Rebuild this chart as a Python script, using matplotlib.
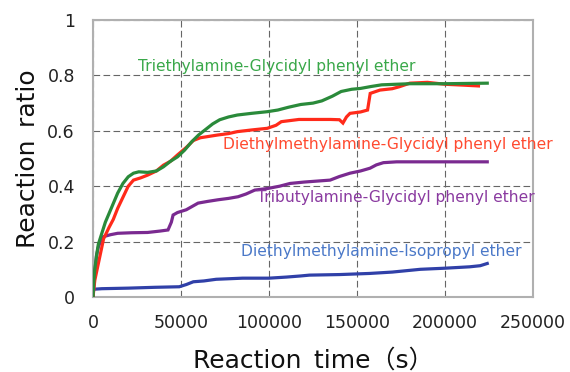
import matplotlib
matplotlib.use("Agg")
import matplotlib.pyplot as plt

# ---------------- data ----------------
green_x = [0, 500, 1000, 2000, 3000, 5000, 7000, 9000, 11000, 14000, 17000, 20000, 23000, 26000,
           31000, 36000, 40000, 44000, 48000, 52000, 56000, 60000, 64000, 68000, 72000, 77000,
           82000, 90000, 99000, 105000, 111000, 118000, 125000, 130000, 136000, 141000, 147000,
           152000, 158000, 164000, 172000, 180000, 200000, 224000]
green_y = [0.0, 0.06, 0.10, 0.15, 0.19, 0.23, 0.27, 0.30, 0.33, 0.375, 0.41, 0.434, 0.447, 0.452,
           0.45, 0.455, 0.47, 0.49, 0.506, 0.53, 0.56, 0.585, 0.605, 0.625, 0.64, 0.65,
           0.657, 0.663, 0.669, 0.675, 0.685, 0.695, 0.70, 0.708, 0.725, 0.742, 0.75,
           0.753, 0.76, 0.766, 0.768, 0.77, 0.77, 0.772]

red_x = [0, 1000, 2000, 4000, 6000, 9000, 11500, 14000, 17000, 20000, 23000, 27000, 31000, 36000,
         40000, 44000, 48000, 53000, 57000, 61000, 66000, 71000, 77000, 82000, 90000, 99000,
         104000, 107000, 117000, 135000, 140000, 142000, 144000, 146000, 152000, 156000, 157500,
         163000, 170000, 174000, 180000, 190000, 200000, 210000, 219000]
red_y = [0.0, 0.06, 0.09, 0.15, 0.21, 0.25, 0.28, 0.32, 0.36, 0.40, 0.422, 0.43, 0.44, 0.455,
         0.476, 0.49, 0.513, 0.54, 0.565, 0.575, 0.58, 0.585, 0.59, 0.597, 0.603, 0.609,
         0.62, 0.633, 0.641, 0.641, 0.64, 0.628, 0.65, 0.663, 0.668, 0.675, 0.735,
         0.747, 0.752, 0.759, 0.772, 0.775, 0.768, 0.765, 0.762]

purple_x = [0, 1000, 2000, 3000, 4500, 6000, 10000, 14000, 22000, 31000, 38000, 42600, 44500,
            45500, 48000, 53000, 59700, 65000, 71000, 77000, 82400, 87000, 91900, 99400, 106000,
            112000, 120000, 134700, 140000, 146000, 152000, 157400, 161000, 165000, 172500, 224000]
purple_y = [0.0, 0.09, 0.15, 0.18, 0.205, 0.218, 0.225, 0.23, 0.232, 0.233, 0.238, 0.242, 0.27,
            0.296, 0.305, 0.315, 0.339, 0.345, 0.351, 0.356, 0.362, 0.372, 0.386, 0.392, 0.40,
            0.41, 0.415, 0.422, 0.435, 0.447, 0.455, 0.465, 0.477, 0.485, 0.488, 0.488]

blue_x = [0, 300, 5000, 20000, 35000, 49000, 53000, 57000, 63000, 70000, 85000, 100000, 110000,
          118000, 123000, 140000, 157000, 170000, 186000, 200000, 214000, 220000, 224000]
blue_y = [0.0, 0.028, 0.03, 0.032, 0.035, 0.037, 0.045, 0.055, 0.058, 0.064, 0.068, 0.068, 0.072,
          0.076, 0.079, 0.081, 0.085, 0.09, 0.10, 0.104, 0.109, 0.113, 0.121]

series_labels = ["Triethylamine-Glycidyl phenyl ether",
                 "Diethylmethylamine-Glycidyl phenyl ether",
                 "Tributylamine-Glycidyl phenyl ether",
                 "Diethylmethylamine-Isopropyl ether"]
label_x = [25600, 73900, 93000, 83900]
label_y = [0.831, 0.552, 0.36, 0.165]

x_ticks = [0, 50000, 100000, 150000, 200000, 250000]
x_ticklabels = ["0", "50000", "100000", "150000", "200000", "250000"]
y_ticks = [0, 0.2, 0.4, 0.6, 0.8, 1.0]
y_ticklabels = ["0", "0.2", "0.4", "0.6", "0.8", "1"]

x_label = "Reaction\u2002time\uff08s\uff09"
y_label = "Reaction\u2002ratio"

# ---------------- style ----------------
plt.rcParams['font.family'] = ['DejaVu Sans', 'Noto Sans CJK JP']

line_colors = ['#2a8a3a', '#ff2a1a', '#7a2a90', '#3040a8']
text_colors = ['#3aa84a', '#ff4a30', '#8a3aa0', '#4a78c8']

fig = plt.figure(figsize=(5.70, 3.72), dpi=100)
ax = fig.add_axes([0.1632, 0.2016, 0.7719, 0.7446])

series = [(green_x, green_y), (red_x, red_y), (purple_x, purple_y), (blue_x, blue_y)]
zorders = [6, 5, 4, 3]
for (xs, ys), c, z in zip(series, line_colors, zorders):
    ax.plot(xs, ys, color=c, lw=2.3, zorder=z, solid_joinstyle='miter')

for lab, lx, ly, tc in zip(series_labels, label_x, label_y, text_colors):
    ax.text(lx, ly, lab, color=tc, fontsize=11.2, ha='left', va='center',
            clip_on=False, zorder=8)

ax.set_xlim(0, 250000)
ax.set_ylim(0, 1)
ax.set_xticks(x_ticks)
ax.set_xticklabels(x_ticklabels)
ax.set_yticks(y_ticks)
ax.set_yticklabels(y_ticklabels)
ax.tick_params(length=0, labelsize=12.5, labelcolor='#222222')
ax.tick_params(axis='x', pad=12)
ax.tick_params(axis='y', pad=13)

ax.grid(True, color='#666666', lw=0.8, ls=(0, (6, 3)), zorder=1)
ax.set_axisbelow(True)
for sp in ax.spines.values():
    sp.set_color('#b0b0b0')
    sp.set_linewidth(1.5)

ax.set_xlabel(x_label, fontsize=18, color='#111111', labelpad=12)
ax.set_ylabel(y_label, fontsize=18, color='#111111', labelpad=5)

fig.savefig("out.png", dpi=100)
